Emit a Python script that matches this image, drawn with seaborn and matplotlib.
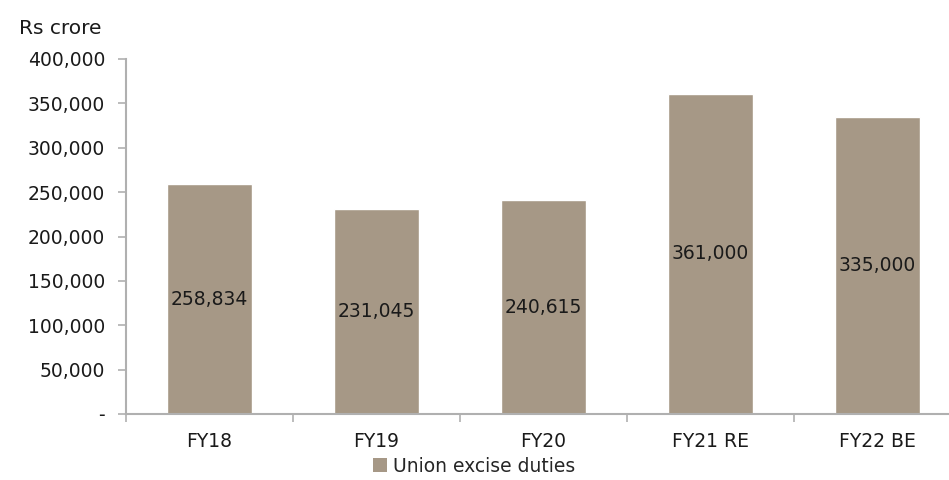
import matplotlib
matplotlib.use("Agg")
import matplotlib.pyplot as plt
import seaborn as sns
import pandas as pd
from matplotlib.ticker import FuncFormatter, FixedLocator
from matplotlib.patches import Patch

# chart data
years = ["FY18", "FY19", "FY20", "FY21 RE", "FY22 BE"]
excise = [258834, 231045, 240615, 361000, 335000]
y_ticks = [0, 50000, 100000, 150000, 200000, 250000, 300000, 350000, 400000]
series_name = "Union excise duties"
unit_label = "Rs crore"

bar_color = "#A69886"
axis_gray = "#B0B0B0"
text_color = "#1a1a1a"
fs = 13.5

sns.set_theme(style="white")
plt.rcParams["font.family"] = ["DejaVu Sans"]

df = pd.DataFrame({"year": years, "value": excise})

fig = plt.figure(figsize=(9.49, 4.8), dpi=100)
ax = fig.add_axes([126 / 949, 1 - 414 / 480, 835 / 949, 355 / 480])

sns.barplot(data=df, x="year", y="value", color=bar_color, width=0.51,
            saturation=1, ax=ax)

ax.set_ylim(0, 400000)
ax.set_xlim(-0.5, len(years) - 0.5)
ax.yaxis.set_major_locator(FixedLocator(y_ticks))
ax.yaxis.set_major_formatter(FuncFormatter(lambda v, _: "-" if v == 0 else f"{int(v):,}"))

for side in ["top", "right"]:
    ax.spines[side].set_visible(False)
for side in ["left", "bottom"]:
    ax.spines[side].set_color(axis_gray)
    ax.spines[side].set_linewidth(1.5)

ax.tick_params(axis="y", which="major", direction="out", length=6, width=1.2,
               color=axis_gray, labelsize=fs, pad=9, left=True, labelcolor=text_color)
ax.tick_params(axis="x", which="major", length=0, labelsize=fs, pad=13,
               labelcolor=text_color)
ax.set_xticks([i + 0.5 for i in range(-1, len(years))], minor=True)
ax.tick_params(axis="x", which="minor", direction="out", length=6, width=1.2,
               color=axis_gray, bottom=True)
ax.set_xlabel("")
ax.set_ylabel("")

ax.bar_label(ax.containers[0], labels=[f"{v:,}" for v in excise],
             label_type="center", fontsize=fs, color=text_color)

fig.text(19 / 949, 1 - 28 / 480, unit_label, fontsize=14.5, va="center",
         ha="left", color=text_color)

handle = Patch(facecolor=bar_color, edgecolor="none")
fig.legend([handle], [series_name], loc="center", bbox_to_anchor=(474 / 949, 1 - 466 / 480),
           frameon=False, fontsize=fs, handlelength=0.75, handleheight=0.75,
           handletextpad=0.35, borderpad=0, borderaxespad=0)

fig.savefig("out.png", dpi=100)
